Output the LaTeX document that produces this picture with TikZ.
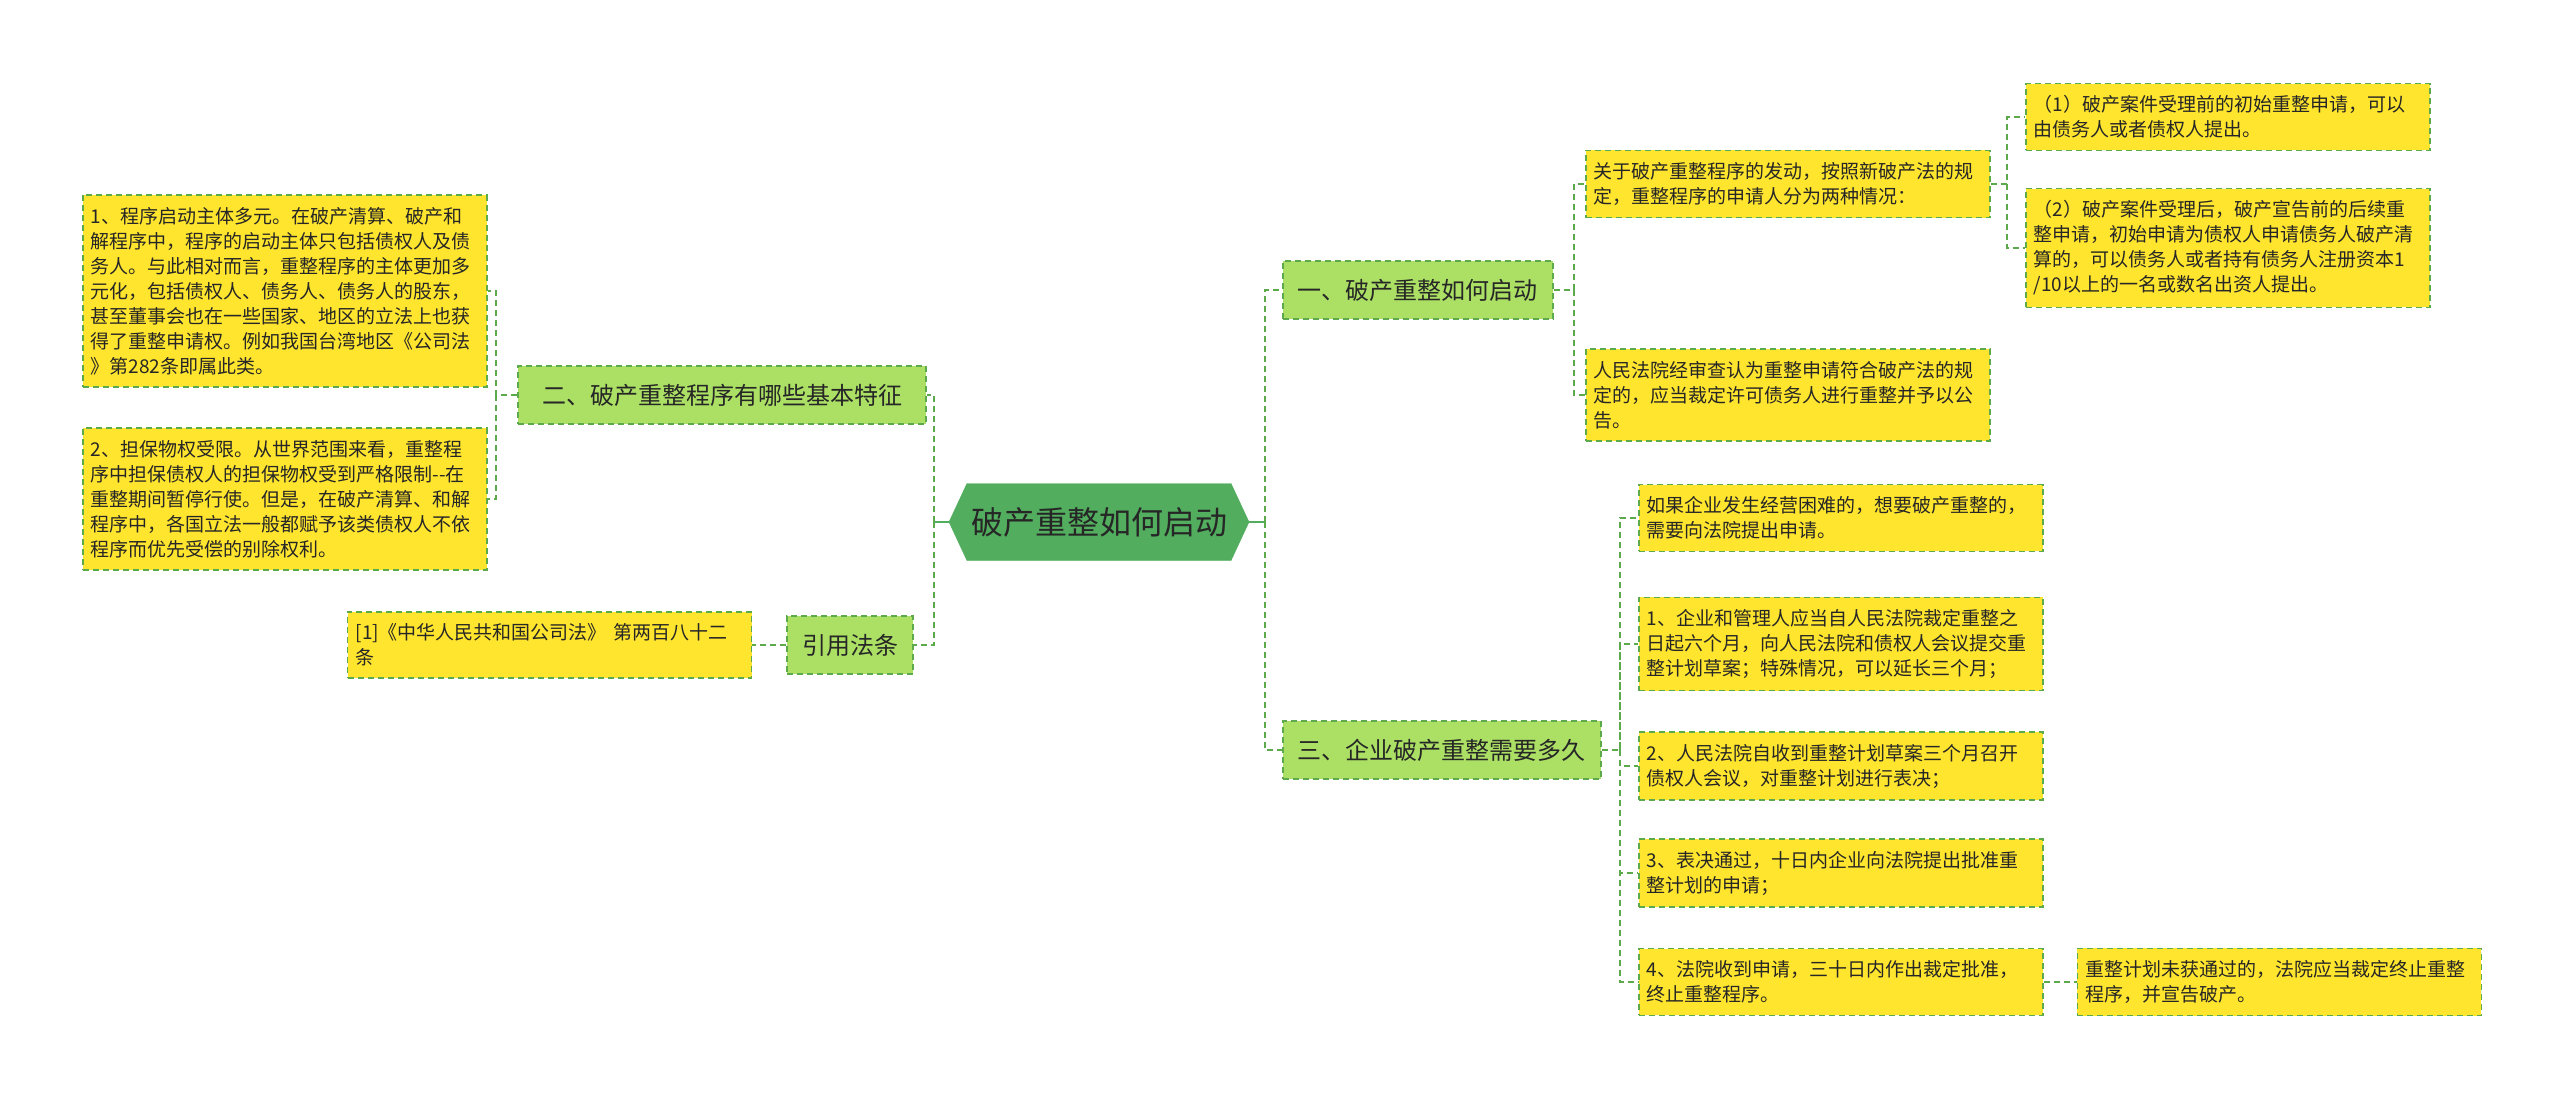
\documentclass[tikz,border=0pt]{standalone}
\usepackage{fontspec}
\setmainfont{Noto Sans CJK SC}
\usepackage{xcolor}
\usetikzlibrary{positioning,shapes.symbols}
\definecolor{leafyellow}{HTML}{FFE52E}
\definecolor{branchgreen}{HTML}{ABE065}
\definecolor{rootgreen}{HTML}{52AD5E}
\definecolor{linegreen}{HTML}{5DAA4C}
\tikzstyle{link}=[draw=linegreen, line width=2pt, dash pattern=on 6pt off 4pt]
\tikzstyle{rootlink}=[draw=rootgreen, line width=2.5pt]

\begin{document}
\begin{tikzpicture}[x=1pt, y=-1pt,
  leaf/.style={draw=linegreen, dash pattern=on 6pt off 4pt, line width=1.6pt,
               fill=leafyellow, text width=388pt, inner xsep=8pt, inner ysep=12pt,
               align=left, anchor=west, text=black!85,
               font=\fontsize{19}{25}\selectfont},
  branch/.style={draw=linegreen, dash pattern=on 6pt off 4pt, line width=1.6pt,
                 fill=branchgreen, inner xsep=15pt, minimum height=58pt,
                 anchor=west, text=black!85, font=\fontsize{24}{28}\selectfont},
  topic/.style={signal, signal to=east and west, signal pointer angle=130,
                draw=rootgreen, fill=rootgreen, minimum width=300pt,
                minimum height=77pt, text=black!85,
                font=\fontsize{32}{36}\selectfont}]
\useasboundingbox (0,0) rectangle (2560,1098);

% centre
\node[topic] (root) at (1099,522) {破产重整如何启动};

% right side
\node[branch] (b1) at (1282,290) {一、破产重整如何启动};
\node[branch] (b3) at (1282,750) {三、企业破产重整需要多久};
\node[leaf] (qa) at (1585,184) {关于破产重整程序的发动，按照新破产法的规\\定，重整程序的申请人分为两种情况：};
\node[leaf] (qb) at (1585,395) {人民法院经审查认为重整申请符合破产法的规\\定的，应当裁定许可债务人进行重整并予以公\\告。};
\node[leaf] (qa1) at (2025,117) {（1）破产案件受理前的初始重整申请，可以\\由债务人或者债权人提出。};
\node[leaf] (qa2) at (2025,248) {（2）破产案件受理后，破产宣告前的后续重\\整申请，初始申请为债权人申请债务人破产清\\算的，可以债务人或者持有债务人注册资本1\\/10以上的一名或数名出资人提出。};
\node[leaf] (t0) at (1638,518) {如果企业发生经营困难的，想要破产重整的，\\需要向法院提出申请。};
\node[leaf] (t1) at (1638,644) {1、企业和管理人应当自人民法院裁定重整之\\日起六个月，向人民法院和债权人会议提交重\\整计划草案；特殊情况，可以延长三个月；};
\node[leaf] (t2) at (1638,766) {2、人民法院自收到重整计划草案三个月召开\\债权人会议，对重整计划进行表决；};
\node[leaf] (t3) at (1638,873) {3、表决通过，十日内企业向法院提出批准重\\整计划的申请；};
\node[leaf] (t4) at (1638,982) {4、法院收到申请，三十日内作出裁定批准，\\终止重整程序。};
\node[leaf, right=33pt of t4] (t4x) {重整计划未获通过的，法院应当裁定终止重整\\程序，并宣告破产。};

% left side
\node[branch, anchor=east, minimum width=408pt] (b2) at (927,395) {二、破产重整程序有哪些基本特征};
\node[branch, anchor=east] (cite) at (914,645) {引用法条};
\node[leaf] (f1) at (82,291) {1、程序启动主体多元。在破产清算、破产和\\解程序中，程序的启动主体只包括债权人及债\\务人。与此相对而言，重整程序的主体更加多\\元化，包括债权人、债务人、债务人的股东，\\甚至董事会也在一些国家、地区的立法上也获\\得了重整申请权。例如我国台湾地区《公司法\\》第282条即属此类。};
\node[leaf] (f2) at (82,499) {2、担保物权受限。从世界范围来看，重整程\\序中担保债权人的担保物权受到严格限制{-}{-}在\\重整期间暂停行使。但是，在破产清算、和解\\程序中，各国立法一般都赋予该类债权人不依\\程序而优先受偿的别除权利。};
\node[leaf, left=34pt of cite, anchor=east] (law) {[1]《中华人民共和国公司法》 第两百八十二\\条};

% junctions
\coordinate (rj) at (1265,522);
\coordinate (lj) at (934,522);
\coordinate[right=20pt of b1.east] (j1);
\coordinate[right=16pt of qa.east] (ja);
\coordinate[right=18pt of b3.east] (j3);
\coordinate[left=21pt of b2.west] (j2);

% connectors
\draw[rootlink] (root.east) -- (rj);
\draw[link] (rj) |- (b1.west);
\draw[link] (rj) |- (b3.west);
\draw[rootlink] (root.west) -- (lj);
\draw[link] (lj) |- (b2.east);
\draw[link] (lj) |- (cite.east);
\draw[link] (b1.east) -- (j1) |- (qa.west);
\draw[link] (j1) |- (qb.west);
\draw[link] (qa.east) -- (ja) |- (qa1.west);
\draw[link] (ja) |- (qa2.west);
\draw[link] (b3.east) -- (j3) |- (t0.west);
\draw[link] (j3) |- (t1.west);
\draw[link] (j3) |- (t2.west);
\draw[link] (j3) |- (t3.west);
\draw[link] (j3) |- (t4.west);
\draw[link] (t4) -- (t4x);
\draw[link] (b2.west) -- (j2) |- (f1.east);
\draw[link] (j2) |- (f2.east);
\draw[link] (cite) -- (law);
\end{tikzpicture}
\end{document}
